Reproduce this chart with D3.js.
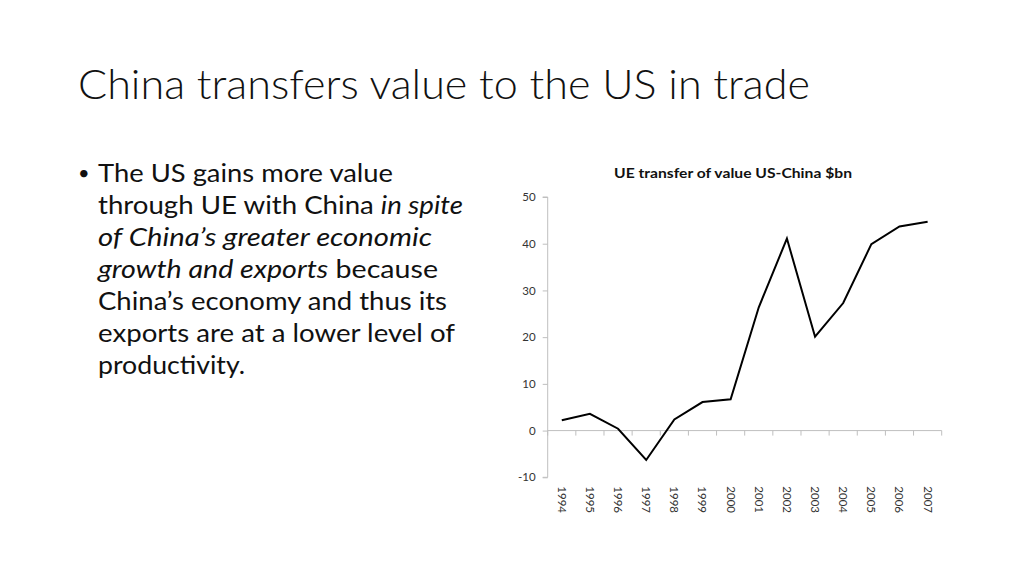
<!DOCTYPE html>
<html><head><meta charset="utf-8">
<script src="https://cdn.jsdelivr.net/npm/d3@7"></script>
<style>html,body{margin:0;padding:0;background:#fff;}svg{display:block;}</style>
</head><body>
<svg id="c" width="1024" height="576"></svg>
<script>
const years = ["1994","1995","1996","1997","1998","1999","2000","2001","2002","2003","2004","2005","2006","2007"];
const values = [2.2, 3.6, 0.4, -6.3, 2.4, 6.1, 6.7, 26.4, 41.1, 20.1, 27.3, 39.9, 43.7, 44.7];
const yTicks = [-10, 0, 10, 20, 30, 40, 50];
const slideTitle = "China transfers value to the US in trade";
const chartTitle = "UE transfer of value US-China $bn";
const bulletLines = [
  [["The US gains more value", false]],
  [["through UE with China ", false], ["in spite", true]],
  [["of China’s greater economic", true]],
  [["growth and exports", true], [" because", false]],
  [["China’s economy and thus its", false]],
  [["exports are at a lower level of", false]],
  [["productivity.", false]]
];
const lineWidths = [295, 365, 334, 340, 349, 357, 147];

const svg = d3.select("#c");
const FONT = "Lato, 'Open Sans', 'Noto Sans', sans-serif";

svg.append("text").attr("x", 78).attr("y", 99).attr("font-family", FONT).attr("font-weight", 300)
  .attr("font-size", 42).attr("fill", "#111").attr("textLength", 732).attr("lengthAdjust", "spacingAndGlyphs")
  .text(slideTitle);

// bullet
svg.append("text").attr("x", 78).attr("y", 180).attr("font-family", FONT).attr("font-size", 20).attr("fill", "#111").text("•");
bulletLines.forEach((ln, i) => {
  const t = svg.append("text").attr("x", 98).attr("y", 182 + i * 32).attr("font-family", FONT)
    .attr("font-size", 25).attr("fill", "#111")
    .attr("textLength", lineWidths[i]).attr("lengthAdjust", "spacingAndGlyphs")
    .attr("xml:space", "preserve").style("white-space", "pre");
  ln.forEach(([s, it]) => t.append("tspan").attr("font-style", it ? "italic" : "normal").text(s));
});

// chart
const x = d3.scaleBand().domain(years).range([547.7, 941.7]);
const y = d3.scaleLinear().domain([-10, 50]).range([477.3, 197]);
const axisColor = "#bfbfbf";

svg.append("text").attr("x", 733).attr("y", 178).attr("text-anchor", "middle")
  .attr("font-family", FONT).attr("font-weight", 700).attr("font-size", 14).attr("fill", "#111")
  .attr("textLength", 238).attr("lengthAdjust", "spacingAndGlyphs").text(chartTitle);

const ya = svg.append("g").attr("transform", `translate(${x.range()[0]},0)`)
  .call(d3.axisLeft(y).tickValues(yTicks).tickSize(5).tickPadding(7).tickFormat(d => String(d)));
ya.selectAll("path,line").attr("stroke", axisColor);
ya.selectAll("text").attr("font-family", FONT).attr("font-size", 11.5).attr("fill", "#333");
ya.select(".domain").attr("d", `M-5,${y(-10)}H0V${y(50)}H-5`);

// x axis at 0
const xa = svg.append("g");
xa.append("line").attr("x1", x.range()[0]).attr("x2", x.range()[1]).attr("y1", y(0)).attr("y2", y(0)).attr("stroke", axisColor);
const bounds = years.map(d => x(d) + x.bandwidth()).concat([x.range()[0]]);
xa.selectAll("line.tk").data(bounds).join("line").attr("class", "tk")
  .attr("x1", d => d).attr("x2", d => d).attr("y1", y(0)).attr("y2", y(0) + 5).attr("stroke", axisColor);

// year labels at bottom, rotated
svg.append("g").selectAll("text").data(years).join("text")
  .attr("transform", d => `translate(${x(d) + x.bandwidth() / 2},${y(-10) + 9}) rotate(90)`)
  .attr("dy", "0.35em").attr("font-family", FONT).attr("font-size", 11.5).attr("fill", "#333").text(d => d);

const line = d3.line().x((d, i) => x(years[i]) + x.bandwidth() / 2).y(d => y(d));
svg.append("path").datum(values).attr("d", line).attr("fill", "none").attr("stroke", "#000")
  .attr("stroke-width", 2).attr("stroke-linejoin", "miter");
</script>
</body></html>
